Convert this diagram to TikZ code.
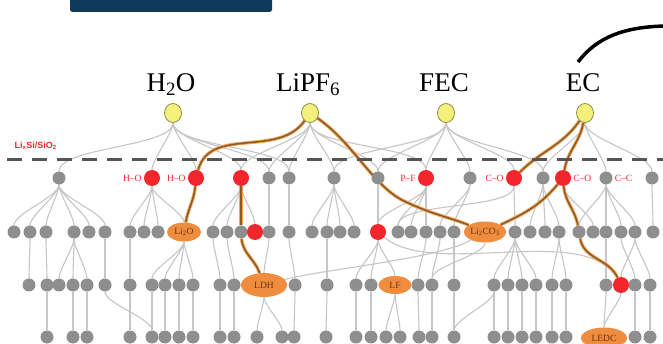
\documentclass[tikz,border=0pt]{standalone}
\usepackage{fontspec}
\setmainfont{Liberation Serif}
\newfontfamily\labsans{Liberation Sans}
\usetikzlibrary{shapes.geometric,positioning,backgrounds}

\definecolor{navy}{HTML}{0F3A5C}
\definecolor{nodegray}{HTML}{8E8E8E}
\definecolor{linkgray}{HTML}{C6C6C6}
\definecolor{bondred}{HTML}{F2262C}
\definecolor{molyellow}{HTML}{F5F07C}
\definecolor{molrim}{HTML}{8C8C40}
\definecolor{prodorange}{HTML}{F08C3E}
\definecolor{prodtext}{HTML}{6B3510}
\definecolor{pathbrown}{HTML}{8A5A28}
\definecolor{pathglow}{HTML}{F2A65A}
\definecolor{dashgray}{HTML}{555555}

\tikzset{
  gn/.style={circle, fill=nodegray, minimum size=13pt, inner sep=0pt},
  rn/.style={circle, fill=bondred, minimum size=16pt, inner sep=0pt},
  mol/.style={ellipse, fill=molyellow, draw=molrim, line width=0.8pt, minimum width=17pt, minimum height=19pt, inner sep=0pt},
  prod/.style={ellipse, fill=prodorange, inner sep=0pt, text=prodtext, font=\fontsize{9.5}{10}\selectfont},
  ln/.style={draw=linkgray, line width=1.1pt, out=-90, in=90, looseness=.5},
  hl/.style={draw=pathbrown, line width=1.5pt, preaction={draw=pathglow, line width=3.4pt}},
  bl/.style={text=bondred, font=\fontsize{9.5}{10}\selectfont, inner sep=1pt},
  mlab/.style={font=\fontsize{27}{29}\selectfont, anchor=base},
}

\begin{document}
\begin{tikzpicture}[x=1pt, y=-1pt]
  \clip (0,0) rectangle (663,344);
  \fill[navy, rounded corners=2.5pt] (70,-6) rectangle (272,12);
  \draw[line width=3.5pt] (578,62) .. controls (597,37) and (624,27) .. (665,26);

  % molecules
  \foreach \x/\nm/\lab in {173/h2o/{H\textsubscript{2}O}, 310/lipf6/{LiPF\textsubscript{6}}, 446/fec/FEC, 585/ec/EC} {
    \node[mol] (\nm) at (\x,113) {};
    \node[mlab] (\nm-lab) at (\x-2,92) {\lab};
  }

  \draw[dashgray, line width=3pt, dash pattern=on 15pt off 10pt] (7,160) -- (663,160);
  \node[text=bondred, font=\labsans\bfseries\fontsize{9}{10}\selectfont, anchor=west] (iface) at (11,146) {Li\textsubscript{x}Si/SiO\textsubscript{2}};

  % first generation
  \foreach \x in {59,269,289,334,378,470,543,606,652} \node[gn] (r1-\x) at (\x,178) {};
  \foreach \x in {152,196,241,426,514,563} \node[rn] (r1-\x) at (\x,178) {};
  \node[bl, left=1pt of r1-152] (bd1) {H–O};
  \node[bl, left=1pt of r1-196] (bd2) {H–O};
  \node[bl, left=1pt of r1-426] (bd3) {P–F};
  \node[bl, left=1pt of r1-514] (bd4) {C–O};
  \node[bl, right=1pt of r1-563] (bd5) {C–O};
  \node[bl, right=1pt of r1-606] (bd6) {C–C};

  % second generation
  \foreach \x in {14,30,46,74,89,105,130,144,158,213,227,241,269,289,312,327,340,354,398,411,426,440,454,515,530,545,559,579,593,606,621,635,653}
    \node[gn] (r2-\x) at (\x,232) {};
  \foreach \x in {255,378} \node[rn] (r2-\x) at (\x,232) {};
  \node[prod, minimum width=34pt, minimum height=19pt] (li2o) at (184,232) {Li\textsubscript{2}O};
  \node[prod, minimum width=42pt, minimum height=21pt] (li2co3) at (485,232) {Li\textsubscript{2}CO\textsubscript{3}};

  % third generation
  \foreach \x in {29,47,59,73,87,105,130,152,165,179,193,220,234,295,327,356,371,418,432,454,494,508,522,536,552,566,606,635,650}
    \node[gn] (r3-\x) at (\x,285) {};
  \node[rn] (r3-621) at (621,285) {};
  \node[prod, minimum width=46pt, minimum height=24pt] (ldh) at (264,285) {LDH};
  \node[prod, minimum width=33pt, minimum height=18pt] (lf) at (395,285) {LF};

  % fourth generation
  \foreach \x in {47,73,87,130,152,165,179,193,220,234,257,282,294,326,356,371,386,400,419,432,454,494,508,522,536,552,566,635,650}
    \node[gn] (r4-\x) at (\x,337) {};
  \node[prod, minimum width=46pt, minimum height=21pt] (ledc) at (604,338) {LEDC};

  \begin{scope}[on background layer]
    \fill[white] (0,0) rectangle (663,344);
    \foreach \a/\b in {h2o/r1-59, h2o/r1-152, h2o/r1-196, h2o/r1-241, h2o/r1-269, h2o/r1-289,
        lipf6/r1-241, lipf6/r1-269, lipf6/r1-289, lipf6/r1-334, lipf6/r1-378, lipf6/r1-426,
        fec/r1-334, fec/r1-378, fec/r1-426, fec/r1-470, fec/r1-514, fec/r1-543,
        ec/r1-543, ec/r1-606, ec/r1-652}
      \draw[ln] (\a) to (\b);
    \foreach \a/\b in {r1-59/r2-14, r1-59/r2-30, r1-59/r2-46, r1-59/r2-74, r1-59/r2-89, r1-59/r2-105,
        r1-152/r2-130, r1-152/r2-144, r1-152/r2-158, r1-152/li2o,
        r1-241/r2-213, r1-241/r2-227, r1-241/r2-255, r1-269/r2-269, r1-289/r2-289,
        r1-334/r2-312, r1-334/r2-327, r1-334/r2-340, r1-334/r2-354, r1-378/r2-378,
        r1-426/r2-378, r1-426/r2-398, r1-426/r2-411, r1-426/r2-426, r1-470/r2-440, r1-470/r2-454,
        r1-514/r2-398, r1-514/r2-515, r1-543/r2-530, r1-543/r2-545, r1-543/r2-559, r1-563/r2-593,
        r1-606/r2-579, r1-606/r2-606, r1-606/r2-621, r1-606/r2-635, r1-652/r2-653}
      \draw[ln] (\a) to (\b);
    \foreach \a/\b in {r2-30/r3-29, r2-46/r3-47, r2-74/r3-59, r2-74/r3-73, r2-74/r3-87, r2-105/r3-105, r2-130/r3-130,
        li2o/r3-152, li2o/r3-165, li2o/r3-179, li2o/r3-193,
        r2-213/r3-220, r2-227/r3-234, r2-269/ldh, r2-289/r3-295, r2-327/r3-327,
        r2-378/r3-356, r2-378/r3-371, r2-378/lf, r2-426/r3-418, r2-440/r3-432, li2co3/r3-432, r2-454/r3-454,
        r2-515/r3-494, r2-515/r3-508, r2-515/r3-522, r2-515/r3-536, r2-559/r3-552, r2-559/r3-566,
        r2-606/r3-606, r2-621/r3-635, r2-635/r3-621, r2-635/r3-650}
      \draw[ln] (\a) to (\b);
    \draw[ln] (r2-378) to[out=-40, in=120, looseness=.7] (r3-621);
    \draw[ln] (ldh) to[out=15, in=-150] (li2co3);
    \foreach \a/\b in {r3-47/r4-47, r3-73/r4-73, r3-87/r4-87, r3-105/r4-152, r3-130/r4-130,
        r3-152/r4-152, r3-165/r4-165, r3-179/r4-179, r3-193/r4-193, r3-220/r4-220, r3-234/r4-234,
        ldh/r4-257, ldh/r4-282, r3-295/r4-294, r3-327/r4-326, r3-356/r4-356, r3-371/r4-371,
        lf/r4-386, lf/r4-400, r3-418/r4-419, r3-432/r4-432, r3-454/r4-454, r3-494/r4-454,
        r3-494/r4-494, r3-508/r4-508, r3-522/r4-522, r3-536/r4-536, r3-552/r4-552, r3-566/r4-566,
        r3-606/ledc, r3-621/ledc, r3-635/r4-635, r3-650/r4-650}
      \draw[ln] (\a) to (\b);
    % highlighted routes
    \draw[hl] (lipf6) to[out=-125, in=75] (r1-196);
    \draw[hl] (r1-196) to[out=-95, in=80] (li2o);
    \draw[hl] (r1-241) -- (r2-241);
    \draw[hl] (r2-241) to[out=-85, in=110] (ldh);
    \draw[hl] (lipf6) .. controls (352,142) and (372,184) .. (402,200) .. controls (430,214) and (452,218) .. (li2co3);
    \draw[hl] (ec) to[out=-125, in=45] (r1-514);
    \draw[hl] (ec) to[out=-100, in=80] (r1-563);
    \draw[hl] (r1-563) to[out=-130, in=25] (li2co3);
    \draw[hl] (r1-563) to[out=-85, in=100] (r2-579);
    \draw[hl] (r2-579) to[out=-80, in=115] (r3-621);
  \end{scope}
\end{tikzpicture}
\end{document}
